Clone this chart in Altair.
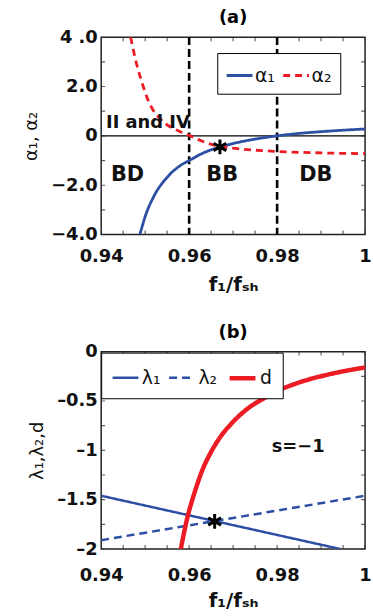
import altair as alt
import pandas as pd

FONT = "DejaVu Sans"
BLUE = "#2c4fa3"
RED = "#ec1c24"

# ---------------- panel (a) data ----------------
a1_x = [0.9488, 0.950, 0.952, 0.955, 0.958, 0.960, 0.963, 0.967, 0.970, 0.975, 0.980, 0.985, 0.990, 0.995, 1.000]
a1_y = [-4.00, -3.27, -2.44, -1.68, -1.20, -1.00, -0.71, -0.45, -0.31, -0.13, 0.00, 0.10, 0.17, 0.23, 0.28]
a2_x = [0.9467, 0.948, 0.9493, 0.9505, 0.9515, 0.953, 0.9544, 0.9565, 0.9581, 0.960, 0.963, 0.9673, 0.970, 0.975, 0.980, 0.990, 1.000]
a2_y = [4.00, 2.95, 2.15, 1.52, 1.14, 0.77, 0.53, 0.29, 0.16, 0.02, -0.22, -0.44, -0.50, -0.58, -0.63, -0.69, -0.72]
zero_y = [0]
bounds_x = [0.96, 0.98]
region_text = ["II and IV", "BD", "BB", "DB"]
region_x = [0.9411, 0.946, 0.9675, 0.9888]
region_y = [0.53, -1.59, -1.59, -1.59]
region_align = ["left", "center", "center", "center"]
star_a_x = [0.967]
star_a_y = [-0.45]

# ---------------- panel (b) data ----------------
l1_x = [0.94, 0.9944]
l1_y = [-1.46, -2.00]
l2_x = [0.94, 1.00]
l2_y = [-1.91, -1.46]
d_x = [0.9581, 0.9596, 0.9610, 0.9618, 0.9630, 0.9647, 0.9670, 0.9698, 0.9735, 0.9771, 0.9800, 0.9845, 0.9918, 1.000]
d_y = [-2.00, -1.68, -1.46, -1.35, -1.20, -1.04, -0.87, -0.72, -0.57, -0.47, -0.40, -0.32, -0.23, -0.16]
star_b_x = [0.9658]
star_b_y = [-1.72]
s_text = ["s=\u22121"]
s_x = [0.9848]
s_y = [-0.97]

x_ticks = [0.94, 0.96, 0.98, 1.0]
a_y_ticks = [-4, -2, 0, 2, 4]
b_y_ticks = [-2, -1.5, -1, -0.5, 0]
x_minor = [0.94, 0.945, 0.95, 0.955, 0.96, 0.965, 0.97, 0.975, 0.98, 0.985, 0.99, 0.995, 1.0]
a_y_minor = [-4, -3, -2, -1, 0, 1, 2, 3, 4]
b_y_minor = [-2, -1.75, -1.5, -1.25, -1, -0.75, -0.5, -0.25, 0]

STAR = "M0,-1L0,1M-0.87,-0.5L0.87,0.5M-0.87,0.5L0.87,-0.5"
W, H = 266, 199

def xaxis(pad, tpad):
    return alt.Axis(values=x_ticks, title="f\u2081/f\u209b\u2095", grid=False, ticks=False, domain=False,
                    labelFlush=False, labelPadding=pad, titlePadding=tpad, titleFontSize=20,
                    labelExpr="datum.value == 1 ? '1' : format(datum.value, '.2f')")

xscale = alt.Scale(domain=[0.94, 1.0], nice=False, zero=False)


def minor_ticks(yscale, ymin, ymax, ylist):
    xt = pd.DataFrame({"x": x_minor * 2, "y": [ymin] * len(x_minor) + [ymax] * len(x_minor)})
    yt = pd.DataFrame({"y": ylist * 2, "x": [0.94] * len(ylist) + [1.0] * len(ylist)})
    tx = alt.Chart(xt).mark_tick(orient="vertical", size=8, thickness=1.2, color="#222", clip=True).encode(
        x=alt.X("x:Q", scale=xscale), y=alt.Y("y:Q", scale=yscale))
    ty = alt.Chart(yt).mark_tick(orient="horizontal", size=8, thickness=1.2, color="#222", clip=True).encode(
        x=alt.X("x:Q", scale=xscale), y=alt.Y("y:Q", scale=yscale))
    return [tx, ty]

# ---------------- panel (a) ----------------
adom = ["\u03b1\u2081", "\u03b1\u2082"]
dfa = pd.concat([
    pd.DataFrame({"x": a1_x, "y": a1_y, "s": adom[0]}),
    pd.DataFrame({"x": a2_x, "y": a2_y, "s": adom[1]}),
])
yscale_a = alt.Scale(domain=[-4, 4], nice=False)
yaxis_a = alt.Axis(values=a_y_ticks, title="\u03b1\u2081, \u03b1\u2082", grid=False, ticks=False, domain=False,
                   labelPadding=4, titlePadding=10, titleFontWeight="normal",
                   labelExpr="datum.value == 4 ? '4 .0' : (datum.value == 0 ? '0' : replace(format(datum.value, '.1f'), '-', '\u2013'))")

lines_a = alt.Chart(dfa).mark_line(strokeWidth=2.8, clip=True, interpolate="monotone").encode(
    x=alt.X("x:Q", scale=xscale, axis=xaxis(13, 9)),
    y=alt.Y("y:Q", scale=yscale_a, axis=yaxis_a),
    color=alt.Color("s:N", scale=alt.Scale(domain=adom, range=[BLUE, RED]),
                    legend=alt.Legend(orient="none", legendX=117, legendY=16, direction="horizontal", title=None,
                                      strokeColor="black", fillColor="white", padding=8, symbolType="stroke",
                                      symbolSize=676, symbolStrokeWidth=3, labelFont=FONT, labelFontSize=19,
                                      labelColor="#111", columnPadding=1, labelOffset=1)),
    strokeDash=alt.StrokeDash("s:N", scale=alt.Scale(domain=adom, range=[[1, 0], [7, 5]])),
)
zero_a = alt.Chart(pd.DataFrame({"y": zero_y})).mark_rule(color="black", strokeWidth=1.5).encode(y=alt.Y("y:Q", scale=yscale_a))
vlines = alt.Chart(pd.DataFrame({"x": bounds_x})).mark_rule(color="black", strokeWidth=2.6, strokeDash=[8, 4]).encode(
    x=alt.X("x:Q", scale=xscale))
regions = alt.Chart(pd.DataFrame({"t": region_text, "x": region_x, "y": region_y, "al": region_align}))
reg_left = regions.transform_filter("datum.al == 'left'").mark_text(font=FONT, fontWeight="bold", fontSize=18, align="left", color="#111").encode(
    x=alt.X("x:Q", scale=xscale), y=alt.Y("y:Q", scale=yscale_a), text="t:N")
reg_center = regions.transform_filter("datum.al == 'center'").mark_text(font=FONT, fontWeight="bold", fontSize=21, align="center", color="#111").encode(
    x=alt.X("x:Q", scale=xscale), y=alt.Y("y:Q", scale=yscale_a), text="t:N")
star_a = alt.Chart(pd.DataFrame({"x": star_a_x, "y": star_a_y})).mark_point(shape=STAR, size=220, color="black", strokeWidth=3, filled=False, opacity=1).encode(
    x=alt.X("x:Q", scale=xscale), y=alt.Y("y:Q", scale=yscale_a))

panel_a = alt.layer(zero_a, *minor_ticks(yscale_a, -4, 4, a_y_minor), vlines, lines_a, reg_left, reg_center, star_a).properties(
    width=W, height=H, title=alt.TitleParams("(a)", font=FONT, fontSize=18, fontWeight="bold", offset=1))

# ---------------- panel (b) ----------------
sdom = ["\u03bb\u2081", "\u03bb\u2082", "d"]
dfb = pd.concat([
    pd.DataFrame({"x": l1_x, "y": l1_y, "s": sdom[0]}),
    pd.DataFrame({"x": l2_x, "y": l2_y, "s": sdom[1]}),
    pd.DataFrame({"x": d_x, "y": d_y, "s": sdom[2]}),
])
yscale_b = alt.Scale(domain=[-2, 0], nice=False)
yaxis_b = alt.Axis(values=b_y_ticks, title="\u03bb\u2081,\u03bb\u2082,d", grid=False, ticks=False, domain=False,
                   labelPadding=4, titlePadding=10, titleFontWeight="normal",
                   labelExpr="datum.value == 0 ? '0' : replace('' + datum.value, '-', '\u2013')")
lines_b = alt.Chart(dfb).mark_line(clip=True, interpolate="monotone").encode(
    x=alt.X("x:Q", scale=xscale, axis=xaxis(18, 6)),
    y=alt.Y("y:Q", scale=yscale_b, axis=yaxis_b),
    color=alt.Color("s:N", scale=alt.Scale(domain=sdom, range=[BLUE, BLUE, RED]),
                    legend=alt.Legend(orient="none", legendX=0, legendY=1, direction="horizontal", title=None,
                                      strokeColor="black", fillColor="white", padding=10, symbolType="stroke",
                                      symbolSize=676, labelFont=FONT, labelFontSize=19, labelColor="#111",
                                      columnPadding=3, labelOffset=2)),
    strokeDash=alt.StrokeDash("s:N", scale=alt.Scale(domain=sdom, range=[[1, 0], [8, 5], [1, 0]])),
    strokeWidth=alt.StrokeWidth("s:N", scale=alt.Scale(type="ordinal", domain=sdom, range=[2.5, 2.5, 4.5])),
)
star_b = alt.Chart(pd.DataFrame({"x": star_b_x, "y": star_b_y})).mark_point(shape=STAR, size=220, color="black", strokeWidth=3, filled=False, opacity=1).encode(
    x=alt.X("x:Q", scale=xscale), y=alt.Y("y:Q", scale=yscale_b))
s_lab = alt.Chart(pd.DataFrame({"t": s_text, "x": s_x, "y": s_y})).mark_text(font=FONT, fontWeight="bold", fontSize=18, color="#111").encode(
    x=alt.X("x:Q", scale=xscale), y=alt.Y("y:Q", scale=yscale_b), text="t:N")

panel_b = alt.layer(*minor_ticks(yscale_b, -2, 0, b_y_minor), lines_b, star_b, s_lab).properties(
    width=W, height=H, title=alt.TitleParams("(b)", font=FONT, fontSize=18, fontWeight="bold", offset=1))

chart = alt.vconcat(panel_a, panel_b, spacing=28).resolve_scale(
    color="independent", strokeDash="independent", strokeWidth="independent"
).resolve_legend(
    color="independent", strokeDash="independent", strokeWidth="independent"
).configure(
    padding={"left": 22, "top": 6, "right": 0, "bottom": 0},
    background="white",
).configure_view(stroke="#222", strokeWidth=1.5).configure_axis(
    labelFont=FONT, labelFontSize=18, labelFontWeight="bold", labelColor="#111",
    titleFont=FONT, titleFontSize=18, titleFontWeight="bold", titleColor="#111",
)

chart.save("out.html", embed_options={"renderer": "svg", "actions": False})
